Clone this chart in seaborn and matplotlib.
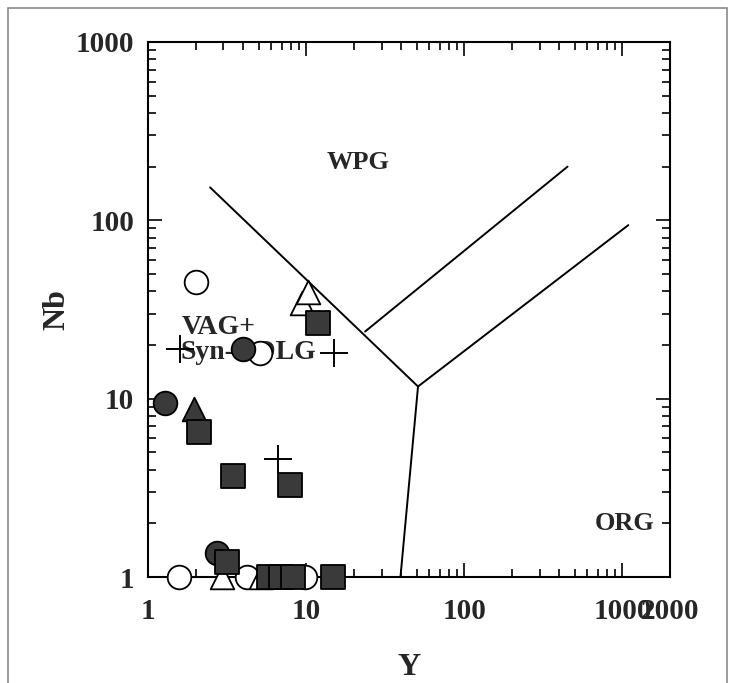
import numpy as np
import pandas as pd
import seaborn as sns
import matplotlib.pyplot as plt
from matplotlib.patches import Rectangle
from matplotlib.ticker import FixedLocator, LogLocator, NullFormatter

# Sample points (Y, Nb), grouped by symbol
open_circle_y = [2.0, 5.1, 1.57, 4.25, 9.9]
open_circle_nb = [45, 18, 1, 1, 1]
filled_circle_y = [4.0, 1.28, 2.75]
filled_circle_nb = [19, 9.4, 1.37]
open_triangle_y = [9.4, 10.3, 2.95, 5.2]
open_triangle_nb = [34.6, 39.4, 1, 1]
filled_triangle_y = [1.95]
filled_triangle_nb = [8.8]
filled_square_y = [11.9, 2.1, 3.45, 7.9, 3.15, 5.8, 6.9, 8.3, 14.8]
filled_square_nb = [26.7, 6.5, 3.7, 3.3, 1.22, 1, 1, 1, 1]
plus_y = [1.6, 15, 6.6]
plus_nb = [19, 18, 4.6]

# Field boundaries (Pearce et al. 1984 style)
boundary_vag_wpg = ([2.47, 51], [153, 11.7])
boundary_wpg_org_upper = ([23.6, 450], [23.8, 200])
boundary_wpg_org_lower = ([51, 1090], [11.7, 94])
boundary_vag_org = ([51, 39.5], [11.7, 1])

x_ticks = [1, 10, 100, 1000, 2000]
y_ticks = [1, 10, 100, 1000]

sns.set_style("ticks")
plt.rcParams['font.family'] = ['Liberation Serif', 'DejaVu Serif']
plt.rcParams['font.weight'] = 'bold'

fig = plt.figure(figsize=(7.35, 6.83), dpi=100)
fig.patches.append(Rectangle((8 / 735, -0.05), 719 / 735, 1 - 8 / 683 + 0.05,
                             transform=fig.transFigure, fill=False,
                             edgecolor='#8a8a8a', linewidth=1.2))
ax = fig.add_axes([148 / 735, 1 - 577 / 683, 522 / 735, 535 / 683])

# boundaries
for xs, ys in [boundary_vag_wpg, boundary_wpg_org_upper,
               boundary_wpg_org_lower, boundary_vag_org]:
    ax.plot(xs, ys, color='black', linewidth=1.4, zorder=1)

groups = [
    (open_circle_y, open_circle_nb, 'o', 'white'),
    (open_triangle_y, open_triangle_nb, '^', 'white'),
    (filled_circle_y, filled_circle_nb, 'o', '#3a3a3a'),
    (filled_triangle_y, filled_triangle_nb, '^', '#3a3a3a'),
    (filled_square_y, filled_square_nb, 's', '#3a3a3a'),
]
for xs, ys, mk, fc in groups:
    df = pd.DataFrame({'Y': xs, 'Nb': ys})
    sns.scatterplot(data=df, x='Y', y='Nb', marker=mk, s=290, color=fc,
                    edgecolor='black', linewidth=1.3, ax=ax, clip_on=False,
                    zorder=3, legend=False)
df_plus = pd.DataFrame({'Y': plus_y, 'Nb': plus_nb})
sns.scatterplot(data=df_plus, x='Y', y='Nb', marker='+', s=420, color='black',
                linewidth=1.4, ax=ax, clip_on=False, zorder=3, legend=False)

ax.set_xscale('log')
ax.set_yscale('log')
ax.set_xlim(1, 2000)
ax.set_ylim(1, 1000)

ax.xaxis.set_major_locator(FixedLocator(x_ticks))
ax.set_xticklabels([str(t) for t in x_ticks])
ax.yaxis.set_major_locator(FixedLocator(y_ticks))
ax.set_yticklabels([str(t) for t in y_ticks])
ax.xaxis.set_minor_locator(LogLocator(base=10, subs=np.arange(2, 10), numticks=20))
ax.yaxis.set_minor_locator(LogLocator(base=10, subs=np.arange(2, 10), numticks=20))
ax.xaxis.set_minor_formatter(NullFormatter())
ax.yaxis.set_minor_formatter(NullFormatter())

ax.tick_params(which='both', direction='in', top=True, right=True,
               width=1.4, labelsize=21)
ax.tick_params(which='major', length=10)
ax.tick_params(which='minor', length=6)
ax.tick_params(axis='x', which='major', pad=15)
ax.tick_params(axis='y', which='major', pad=10)
for lab in ax.get_xticklabels() + ax.get_yticklabels():
    lab.set_fontweight('bold')
for sp in ax.spines.values():
    sp.set_linewidth(1.5)
    sp.set_color('black')

ax.set_xlabel('Y', fontsize=23, fontweight='bold', labelpad=20)
ax.set_ylabel('Nb', fontsize=23, fontweight='bold', labelpad=3)

# field labels
ax.text(21.3, 212, 'WPG', fontsize=19, fontweight='bold', ha='center', va='center', zorder=2)
ax.text(1.64, 25, 'VAG+', fontsize=20, fontweight='bold', ha='left', va='center', zorder=2)
ax.text(1.6, 18.2, 'Syn-COLG', fontsize=20, fontweight='bold', ha='left', va='center', zorder=2)
ax.text(1030, 2.0, 'ORG', fontsize=19, fontweight='bold', ha='center', va='center', zorder=2)

fig.savefig('out.png', dpi=100)
